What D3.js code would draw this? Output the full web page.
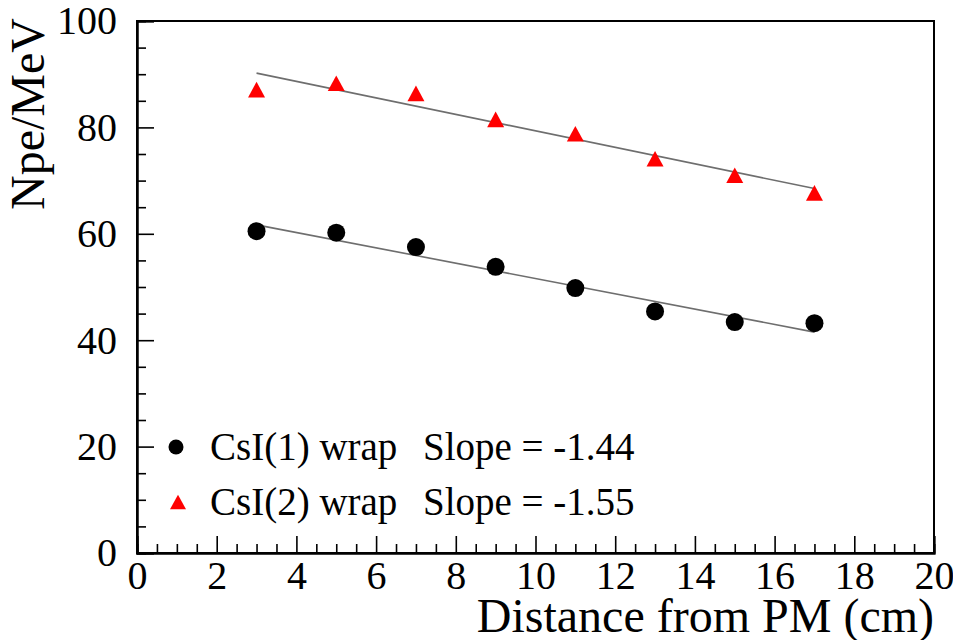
<!DOCTYPE html>
<html>
<head>
<meta charset="utf-8">
<script src="https://cdn.jsdelivr.net/npm/d3@7"></script>
<style>
  body { margin: 0; background: #fff; }
  svg text { font-family: "Liberation Serif", "DejaVu Serif", serif; fill: #000; }
</style>
</head>
<body>
<div id="chart"></div>
<script>
// data
const distance = [3, 5, 7, 9, 11, 13, 15, 17]
const csi1 = [60.5, 60.2, 57.5, 53.8, 49.8, 45.4, 43.4, 43.2]
const csi2 = [87.1, 88.3, 86.4, 81.5, 78.8, 74.1, 71.0, 67.7]
const seriesNames = ['CsI(1) wrap', 'CsI(2) wrap']
const fitSlope = [-1.44, -1.55]
const fitIntercept = [66.0, 94.85]
const fitRange = [3, 17]
const xMajorTicks = [0, 2, 4, 6, 8, 10, 12, 14, 16, 18, 20]
const yMajorTicks = [0, 20, 40, 60, 80, 100]

const width = 953, height = 640
const margin = {top: 21, right: 19, bottom: 87, left: 137}

const svg = d3.select('#chart').append('svg')
    .attr('width', width)
    .attr('height', height)

const x = d3.scaleLinear().domain([0, 20]).range([margin.left, width - margin.right])
const y = d3.scaleLinear().domain([0, 100]).range([height - margin.bottom, margin.top])

// frame
svg.append('rect')
    .attr('x', x(0)).attr('y', y(100))
    .attr('width', x(20) - x(0)).attr('height', y(0) - y(100))
    .attr('fill', 'none').attr('stroke', '#000').attr('stroke-width', 2)

// minor ticks (inward)
let xMinor = d3.range(0, 20.01, 0.5).filter(v => v % 2 !== 0)
let yMinor = d3.range(0, 100.01, 5).filter(v => v % 20 !== 0)

svg.append('g')
    .attr('transform', 'translate(0,' + y(0) + ')')
    .call(d3.axisBottom(x).tickValues(xMinor).tickSize(-9).tickFormat(''))
svg.append('g')
    .attr('transform', 'translate(' + x(0) + ',0)')
    .call(d3.axisLeft(y).tickValues(yMinor).tickSize(-9).tickFormat(''))

// major ticks with labels
svg.append('g')
    .attr('class', 'x axis')
    .attr('transform', 'translate(0,' + y(0) + ')')
    .call(d3.axisBottom(x).tickValues(xMajorTicks).tickSize(-17).tickPadding(8).tickFormat(d3.format('d')))
svg.append('g')
    .attr('class', 'y axis')
    .attr('transform', 'translate(' + x(0) + ',0)')
    .call(d3.axisLeft(y).tickValues(yMajorTicks).tickSize(-17).tickPadding(20).tickFormat(d3.format('d')))

svg.selectAll('.axis text').attr('font-size', 40)
svg.selectAll('.tick line').attr('stroke', '#000').attr('stroke-width', 1.6)
svg.selectAll('.domain').attr('stroke', '#000').attr('stroke-width', 2)

// axis titles
svg.append('text')
    .attr('x', x(20)).attr('y', 632)
    .attr('text-anchor', 'end')
    .attr('font-size', 48)
    .text('Distance from PM (cm)')
svg.append('text')
    .attr('transform', 'translate(44,18) rotate(-90)')
    .attr('text-anchor', 'end')
    .attr('font-size', 48)
    .text('Npe/MeV')

// fit lines
const fitLine = d3.line().x(d => x(d[0])).y(d => y(d[1]))
fitSlope.forEach((s, i) => {
    let pts = fitRange.map(v => [v, fitIntercept[i] + s * v])
    svg.append('path')
        .attr('d', fitLine(pts))
        .attr('fill', 'none')
        .attr('stroke', '#6e6e6e')
        .attr('stroke-width', 1.6)
})

// triangle centred on its bounding box, like the ROOT marker
const triUp = {
    draw(context, size) {
        let w = Math.sqrt(size)
        let h = w * 0.92
        context.moveTo(0, -h / 2)
        context.lineTo(w / 2, h / 2)
        context.lineTo(-w / 2, h / 2)
        context.closePath()
    }
}

svg.selectAll('.pt1')
    .data(distance.map((d, i) => ({x: d, y: csi1[i]})))
    .join('circle')
        .attr('class', 'pt1')
        .attr('cx', d => x(d.x))
        .attr('cy', d => y(d.y))
        .attr('r', 9)
        .attr('fill', '#000')

svg.selectAll('.pt2')
    .data(distance.map((d, i) => ({x: d, y: csi2[i]})))
    .join('path')
        .attr('class', 'pt2')
        .attr('transform', d => 'translate(' + x(d.x) + ',' + y(d.y) + ')')
        .attr('d', d3.symbol().type(triUp).size(17 * 17))
        .attr('fill', '#ff0000')

// legend
let legend = svg.append('g')
let slopeText = fitSlope.map(s => 'Slope = ' + s.toFixed(2))
legend.append('circle')
    .attr('cx', 176).attr('cy', 447).attr('r', 7.5).attr('fill', '#000')
legend.append('path')
    .attr('transform', 'translate(178,502)')
    .attr('d', d3.symbol().type(triUp).size(16 * 16))
    .attr('fill', '#ff0000')
seriesNames.forEach((n, i) => {
    legend.append('text')
        .attr('x', 210).attr('y', 460 + i * 55)
        .attr('font-size', 39)
        .text(n)
    legend.append('text')
        .attr('x', 423).attr('y', 460 + i * 55)
        .attr('font-size', 39)
        .text(slopeText[i])
})
</script>
</body>
</html>
